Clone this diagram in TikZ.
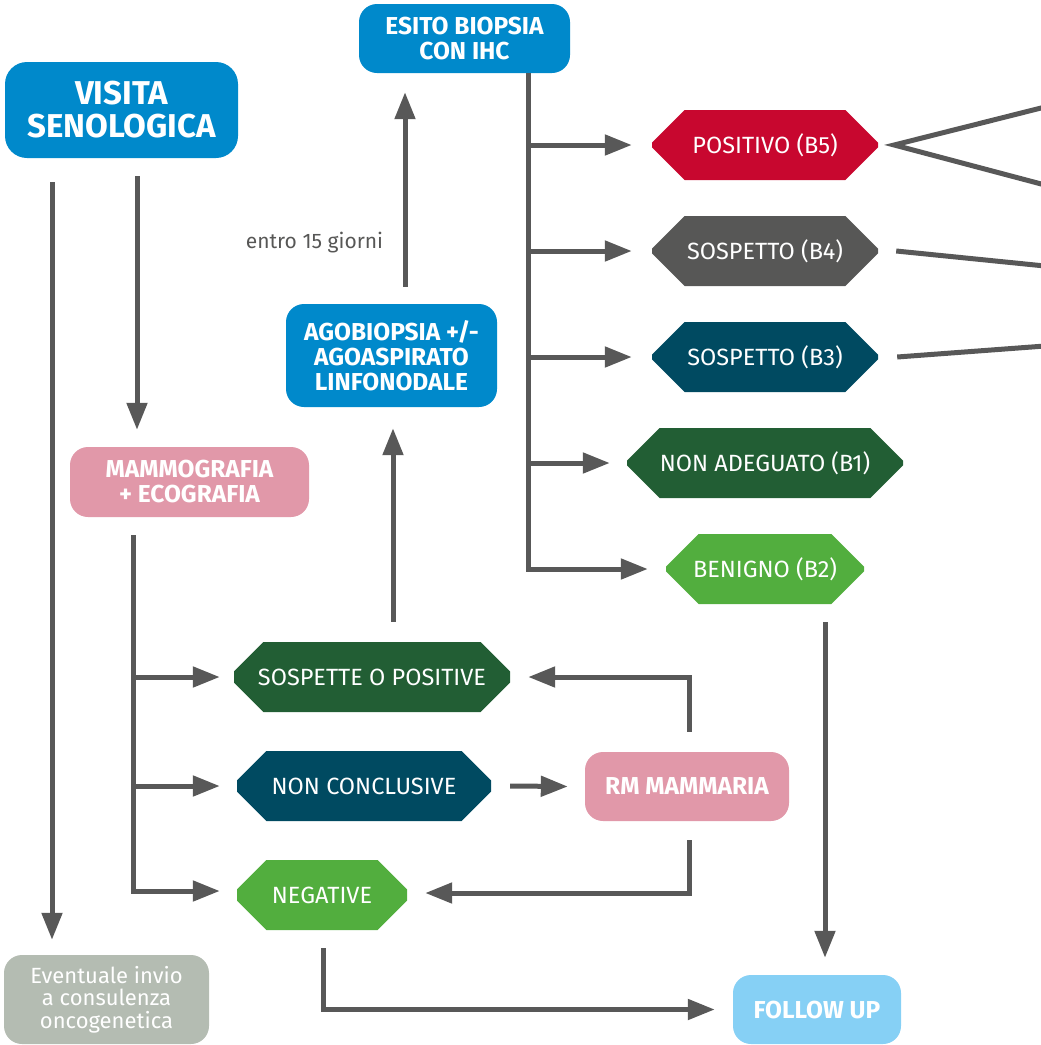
\documentclass[tikz,border=0pt]{standalone}
\usepackage{fontspec}
\setmainfont{Fira Sans}
\usetikzlibrary{arrows.meta,shapes.misc}
\definecolor{cblue}{HTML}{0089CB}
\definecolor{cpink}{HTML}{E198A9}
\definecolor{clight}{HTML}{86D0F5}
\definecolor{cgrey}{HTML}{B4BCB2}
\definecolor{cred}{HTML}{C8072F}
\definecolor{cdgrey}{HTML}{575756}
\definecolor{cteal}{HTML}{004A61}
\definecolor{cdgreen}{HTML}{225E34}
\definecolor{cgreen}{HTML}{52AE3E}
\definecolor{cline}{HTML}{585858}
\tikzset{
  rbox/.style={rectangle, rounded corners=18pt, text=white, align=center, inner sep=0pt, font=\bfseries\fontsize{24.5}{25}\selectfont},
  octbox/.style={chamfered rectangle, chamfered rectangle xsep=21pt, chamfered rectangle ysep=21pt, chamfered rectangle angle=45, text=white, inner sep=0pt, minimum height=70pt, font=\fontsize{23.5}{25}\selectfont},
  arr/.style={draw=cline, line width=5pt, -{Triangle[length=27pt,width=20pt]}},
  ln/.style={draw=cline, line width=5pt},
}
\begin{document}
\begin{tikzpicture}[x=1pt,y=-1pt]
\useasboundingbox (0,0) rectangle (1041,1045);
% rounded boxes
\node[rbox, fill=cblue, minimum width=233pt, minimum height=96pt, rounded corners=22pt, font=\bfseries\fontsize{33}{33}\selectfont] (visita) at (121.5,110) {VISITA\\SENOLOGICA};
\node[rbox, fill=cblue, minimum width=211pt, minimum height=69pt] (esito) at (464.5,38.5) {ESITO BIOPSIA\\CON IHC};
\node[rbox, fill=cblue, minimum width=211pt, minimum height=103pt] (ago) at (391.5,355.5) {AGOBIOPSIA +/-\\AGOASPIRATO\\LINFONODALE};
\node[rbox, fill=cpink, minimum width=239pt, minimum height=70pt] (mammo) at (189.5,482) {MAMMOGRAFIA\\+ ECOGRAFIA};
\node[rbox, fill=cpink, minimum width=204pt, minimum height=69pt] (rm) at (687,786.5) {RM MAMMARIA};
\node[rbox, fill=clight, minimum width=168pt, minimum height=69pt] (follow) at (817,1009.5) {FOLLOW UP};
\node[rbox, fill=cgrey, minimum width=205pt, minimum height=89pt, font=\fontsize{22}{22.5}\selectfont] (event) at (106.5,999.5) {Eventuale invio\\a consulenza\\oncogenetica};
% octagons
\node[octbox, fill=cred, minimum width=226pt] (b5) at (765,145) {POSITIVO (B5)};
\node[octbox, fill=cdgrey, minimum width=226pt] (b4) at (765,251) {SOSPETTO (B4)};
\node[octbox, fill=cteal, minimum width=226pt] (b3) at (765,357) {SOSPETTO (B3)};
\node[octbox, fill=cdgreen, minimum width=276pt] (b1) at (765,463) {NON ADEGUATO (B1)};
\node[octbox, fill=cgreen, minimum width=198pt] (b2) at (765,569) {BENIGNO (B2)};
\node[octbox, fill=cdgreen, minimum width=276pt] (sosp) at (372,677) {SOSPETTE O POSITIVE};
\node[octbox, fill=cteal, minimum width=254pt] (nonc) at (364,786) {NON CONCLUSIVE};
\node[octbox, fill=cgreen, minimum width=170pt] (neg) at (322,895) {NEGATIVE};
% connectors
\draw[arr] ([xshift=-69.5pt,yshift=-24pt]visita.south) -- ([xshift=-54.5pt,yshift=15pt]event.north);
\draw[arr] ([xshift=15.5pt,yshift=-18pt]visita.south) -- ([xshift=-52.5pt,yshift=17pt]mammo.north);
\coordinate (mt) at ([xshift=-56.5pt,yshift=-18pt]mammo.south);
\draw[arr] (mt) |- ([xshift=-17pt,yshift=4pt]neg.west);
\draw[arr] (mt |- sosp.west) -- ([xshift=-14pt]sosp.west);
\draw[arr] (mt |- nonc.west) -- ([xshift=-17pt]nonc.west);
\draw[arr] ([xshift=21pt,yshift=20pt]sosp.north) -- ([xshift=1.5pt,yshift=-21pt]ago.south);
\draw[arr] ([xshift=13.5pt,yshift=17pt]ago.north) -- node[pos=0.23, anchor=east, xshift=-16pt, text=cdgrey, font=\fontsize{21}{22}\selectfont] (lbl) {entro 15 giorni} ([xshift=-59.5pt,yshift=-19pt]esito.south);
\coordinate (et) at ([xshift=63.5pt]esito.south);
\draw[arr] (et) |- ([xshift=-18pt]b2.west);
\draw[arr] (et |- b5.west) -- ([xshift=-20pt]b5.west);
\draw[arr] (et |- b4.west) -- ([xshift=-20pt]b4.west);
\draw[arr] (et |- b3.west) -- ([xshift=-20pt]b3.west);
\draw[arr] (et |- b1.west) -- ([xshift=-17pt]b1.west);
\draw[arr] ([xshift=19pt]nonc.east) -- ([xshift=-17pt]rm.west);
\draw[arr] ([xshift=2pt,yshift=20pt]rm.north) |- ([xshift=18pt]sosp.east);
\draw[arr] ([xshift=2pt,yshift=-19pt]rm.south) |- ([xshift=18pt,yshift=2pt]neg.east);
\draw[arr] ([xshift=60pt,yshift=-18pt]b2.south) -- ([xshift=8pt,yshift=17pt]follow.north);
\draw[arr] ([xshift=1pt,yshift=-18pt]neg.south) |- ([xshift=-18pt]follow.west);
% lines leaving the picture
\coordinate (o1) at (1045,107);
\coordinate (o2) at (1045,185);
\coordinate (o3) at (1045,266);
\coordinate (o4) at (1045,346);
\draw[ln, line join=miter] (o1) -- ([xshift=16pt]b5.east) -- (o2);
\draw[ln] ([xshift=18pt]b4.east) -- (o3);
\draw[ln] ([xshift=19pt]b3.east) -- (o4);
\end{tikzpicture}
\end{document}
